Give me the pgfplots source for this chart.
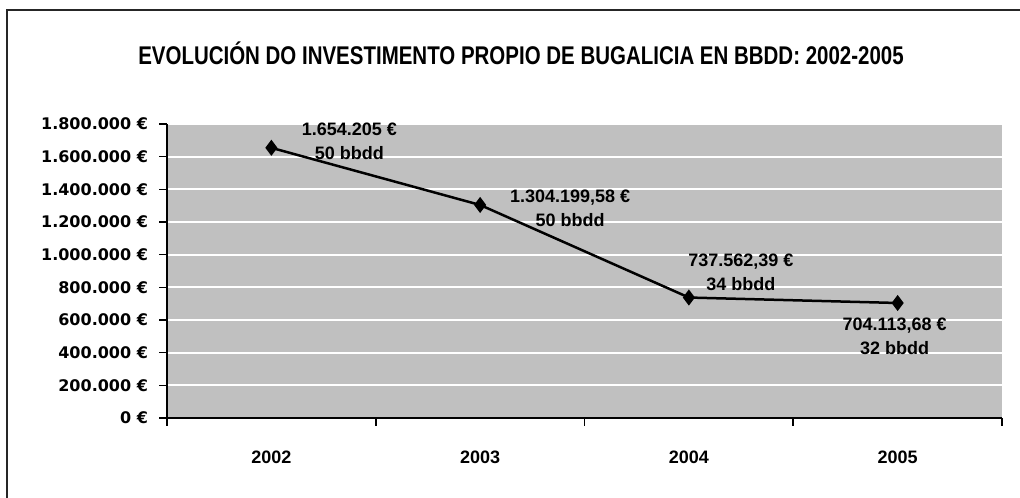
\documentclass[border=0pt]{standalone}
\usepackage{fontspec}
\setmainfont{Liberation Sans}
\newfontfamily\dejavu{DejaVu Sans}
\newfontfamily\titlefont[FakeStretch=0.8]{Liberation Sans}
\usepackage{pgfplots}
\pgfplotsset{compat=1.18}
\definecolor{plotgray}{HTML}{C0C0C0}

\pgfplotstableread{
x y
1 1654205
2 1304199.58
3 737562.39
4 704113.68
}\invdata

\begin{document}
\begin{tikzpicture}
\path[use as bounding box] (0,0) rectangle (510pt,248.5pt);
\fill[white] (0,0) rectangle (510pt,248.5pt);
\draw[line width=1.1pt, black!85] (3.5pt,-5pt) -- (3.5pt,243.5pt) -- (520pt,243.5pt);
\node[font=\titlefont\bfseries\fontsize{12.8}{15}\selectfont] at (260.5pt,222pt) {EVOLUCIÓN DO INVESTIMENTO PROPIO DE BUGALICIA EN BBDD: 2002-2005};
\begin{axis}[
  at={(83.5pt,39.5pt)}, anchor=south west,
  scale only axis, width=417.5pt, height=147pt,
  xmin=0.5, xmax=4.5, ymin=0, ymax=1800000,
  axis background/.style={fill=plotgray},
  axis lines=left, axis line style={-, line width=0.9pt, black},
  ytick={0,200000,400000,600000,800000,1000000,1200000,1400000,1600000,1800000},
  yticklabels={0 €,200.000 €,400.000 €,600.000 €,800.000 €,1.000.000 €,1.200.000 €,1.400.000 €,1.600.000 €,1.800.000 €},
  ymajorgrids, major grid style={white, line width=1pt},
  xtick={1,2,3,4}, xticklabels={2002,2003,2004,2005},
  minor xtick={0.5,1.5,2.5,3.5,4.5},
  tick align=outside, major tick length=4pt, minor tick length=4pt,
  major x tick style={draw=none},
  minor x tick style={black, line width=0.8pt},
  ytick style={black, line width=0.8pt},
  yticklabel style={font=\dejavu\bfseries\fontsize{8}{10}\selectfont, xshift=-2pt},
  xticklabel style={font=\bfseries\fontsize{9}{11}\selectfont, yshift=-9pt},
  scaled y ticks=false,
  clip=false,
]
\addplot[black, line width=1.25pt, mark=diamond*, mark size=3pt, mark options={fill=black}] table[x=x,y=y] {\invdata};
\node[font=\bfseries\fontsize{9}{12}\selectfont, align=center, xshift=39pt, yshift=3.4pt] at (axis cs:1,1654205) {1.654.205 €\\50 bbdd};
\node[font=\bfseries\fontsize{9}{12}\selectfont, align=center, xshift=45pt, yshift=-1.5pt] at (axis cs:2,1304199.58) {1.304.199,58 €\\50 bbdd};
\node[font=\bfseries\fontsize{9}{12}\selectfont, align=center, xshift=26pt, yshift=12.75pt] at (axis cs:3,737562.39) {737.562,39 €\\34 bbdd};
\node[font=\bfseries\fontsize{9}{12}\selectfont, align=center, xshift=-1.5pt, yshift=-16.5pt] at (axis cs:4,704113.68) {704.113,68 €\\32 bbdd};
\end{axis}
\end{tikzpicture}
\end{document}
